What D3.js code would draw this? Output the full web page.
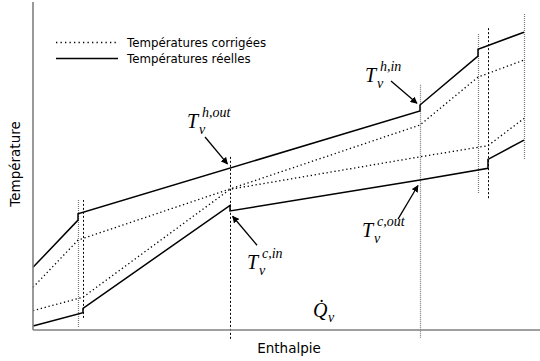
<!DOCTYPE html>
<html>
<head>
<meta charset="utf-8">
<script src="https://cdn.jsdelivr.net/npm/d3@7"></script>
<style>
  body { margin: 0; background: #fff; }
  svg { display: block; }
  .lab { font-family: "DejaVu Sans", sans-serif; fill: #000; }
  .math { font-family: "Liberation Serif", serif; font-style: italic; fill: #000; }
</style>
</head>
<body>
<div id="vis"></div>
<script>
// enthalpy (0-100) / temperature (0-100), arbitrary units
var hotReal = [[0, 19.1], [8.88, 33.5], [8.88, 35.4], [76.33, 66.8], [76.33, 68.6], [87.77, 83.5], [87.77, 85.6], [96.84, 90.8]];
var hotCorr = [[0, 13.0], [8.88, 27.4], [76.33, 62.5], [87.77, 77.1], [96.84, 82.3]];
var coldCorr = [[0, 5.9], [9.86, 10.0], [38.86, 42.9], [76.33, 52.8], [89.74, 56.2], [96.84, 64.5]];
var coldReal = [[0, 1.2], [9.86, 5.3], [9.86, 6.6], [38.86, 38.0], [38.86, 36.3], [76.33, 45.7], [89.74, 49.3], [89.74, 52.0], [96.84, 57.9]];

// interval boundaries: enthalpy, bottom, top, side
var hotBounds = [[8.88, 0.9, 39.9], [76.33, -2.4, 75.0], [87.77, 41.8, 90.5], [96.84, 52.1, 96.6]];
var coldBounds = [[9.86, 3.7, 39.6], [38.86, -2.7, 53.4], [89.74, 40.2, 92.1]];

var legendLabels = ["Températures corrigées", "Températures réelles"];
var axisLabels = { x: "Enthalpie", y: "Température" };

// annotations: superscript, point aimed at (h, T)
var annotations = [
    { sup: "h,out", at: [38.86, 49.7] },
    { sup: "h,in", at: [76.33, 68.3] },
    { sup: "c,in", at: [38.86, 35.6] },
    { sup: "c,out", at: [76.33, 45.1] }
];

var width = 540,
    height = 361;

var svg = d3.select("#vis")
    .append("svg")
    .attr("width", width)
    .attr("height", height);

var x = d3.scaleLinear().domain([0, 100]).range([33, 540]);
var y = d3.scaleLinear().domain([0, 100]).range([330, 2]);

var line = d3.line()
    .x(function(d) { return x(d[0]); })
    .y(function(d) { return y(d[1]); });

svg.append("defs").append("marker")
    .attr("id", "head")
    .attr("viewBox", "0 0 10 10")
    .attr("refX", 9)
    .attr("refY", 5)
    .attr("markerWidth", 7)
    .attr("markerHeight", 7)
    .attr("markerUnits", "userSpaceOnUse")
    .attr("orient", "auto")
    .append("path")
    .attr("d", "M0,0L10,5L0,10z")
    .attr("fill", "#000");

////////// boundaries //////////

svg.selectAll(".hb")
    .data(hotBounds)
    .enter()
    .append("line")
    .attr("class", "hb")
    .attr("x1", function(d) { return Math.round(x(d[0])) + 0.5; })
    .attr("x2", function(d) { return Math.round(x(d[0])) + 0.5; })
    .attr("y1", function(d) { return y(d[1]); })
    .attr("y2", function(d) { return y(d[2]); })
    .attr("stroke", "#777")
    .attr("stroke-width", 1.2)
    .attr("stroke-dasharray", "1,1");

svg.selectAll(".cb")
    .data(coldBounds)
    .enter()
    .append("line")
    .attr("class", "cb")
    .attr("x1", function(d) { return Math.round(x(d[0])) + 0.5; })
    .attr("x2", function(d) { return Math.round(x(d[0])) + 0.5; })
    .attr("y1", function(d) { return y(d[1]); })
    .attr("y2", function(d) { return y(d[2]); })
    .attr("stroke", "#000")
    .attr("stroke-width", 1)
    .attr("stroke-dasharray", "2,2");

////////// curves //////////

[hotCorr, coldCorr].forEach(function(d) {
    svg.append("path")
        .attr("d", line(d))
        .attr("fill", "none")
        .attr("stroke", "#000")
        .attr("stroke-width", 1.3)
        .attr("stroke-dasharray", "1.3,2.7");
});

[hotReal, coldReal].forEach(function(d) {
    svg.append("path")
        .attr("d", line(d))
        .attr("fill", "none")
        .attr("stroke", "#000")
        .attr("stroke-width", 1.5);
});

////////// axes //////////

svg.append("line")
    .attr("x1", x(0)).attr("x2", x(0))
    .attr("y1", y(100)).attr("y2", y(0))
    .attr("stroke", "#808080").attr("stroke-width", 1.6);
svg.append("line")
    .attr("x1", x(0)).attr("x2", x(100))
    .attr("y1", y(0)).attr("y2", y(0))
    .attr("stroke", "#808080").attr("stroke-width", 1.6);

svg.append("text")
    .attr("class", "lab")
    .attr("x", 289)
    .attr("y", 353)
    .attr("text-anchor", "middle")
    .style("font-size", "13.5px")
    .text(axisLabels.x);

svg.append("text")
    .attr("class", "lab")
    .attr("transform", "translate(20,164) rotate(-90)")
    .attr("text-anchor", "middle")
    .style("font-size", "13.5px")
    .text(axisLabels.y);

////////// legend //////////

var legend = svg.append("g").attr("transform", "translate(56,0)");
legend.append("line")
    .attr("x1", 0).attr("x2", 61).attr("y1", 42.5).attr("y2", 42.5)
    .attr("stroke", "#000").attr("stroke-width", 1.3).attr("stroke-dasharray", "1.3,3.2");
legend.append("line")
    .attr("x1", 0).attr("x2", 62).attr("y1", 58.5).attr("y2", 58.5)
    .attr("stroke", "#000").attr("stroke-width", 1.5);
legend.selectAll("text")
    .data(legendLabels)
    .enter()
    .append("text")
    .attr("class", "lab")
    .attr("x", 71)
    .attr("y", function(d, i) { return 46.5 + i * 16; })
    .style("font-size", "11.8px")
    .text(function(d) { return d; });

////////// annotations //////////

// label origin and arrow start, relative to the aimed point
var offsets = [
    { tx: -43, ty: -39, ax: -25, ay: -30 },
    { tx: -55, ty: -24, ax: -29, ay: -25 },
    { tx: 17, ty: 56, ax: 27, ay: 32 },
    { tx: -58, ty: 55, ax: -22, ay: 37 }
];

annotations.forEach(function(a, i) {
    var px = x(a.at[0]),
        py = y(a.at[1]),
        o = offsets[i];
    var t = svg.append("text")
        .attr("class", "math")
        .attr("x", px + o.tx)
        .attr("y", py + o.ty)
        .style("font-size", "20px");
    t.append("tspan").text("T");
    t.append("tspan")
        .attr("x", px + o.tx + 15)
        .attr("y", py + o.ty - 11)
        .style("font-size", "14px")
        .text(a.sup);
    t.append("tspan")
        .attr("x", px + o.tx + 12)
        .attr("y", py + o.ty + 6)
        .style("font-size", "14px")
        .text("v");

    var dx = -o.ax, dy = -o.ay, len = Math.sqrt(dx * dx + dy * dy);
    svg.append("line")
        .attr("x1", px + o.ax)
        .attr("y1", py + o.ay)
        .attr("x2", px - dx / len * 4)
        .attr("y2", py - dy / len * 4)
        .attr("stroke", "#000")
        .attr("stroke-width", 1.3)
        .attr("marker-end", "url(#head)");
});

var q = svg.append("text")
    .attr("class", "math")
    .attr("x", 313)
    .attr("y", 317)
    .style("font-size", "20px");
q.append("tspan").text("Q\u0307");
q.append("tspan")
    .attr("x", 328)
    .attr("y", 322)
    .style("font-size", "14px")
    .text("v");
</script>
</body>
</html>
